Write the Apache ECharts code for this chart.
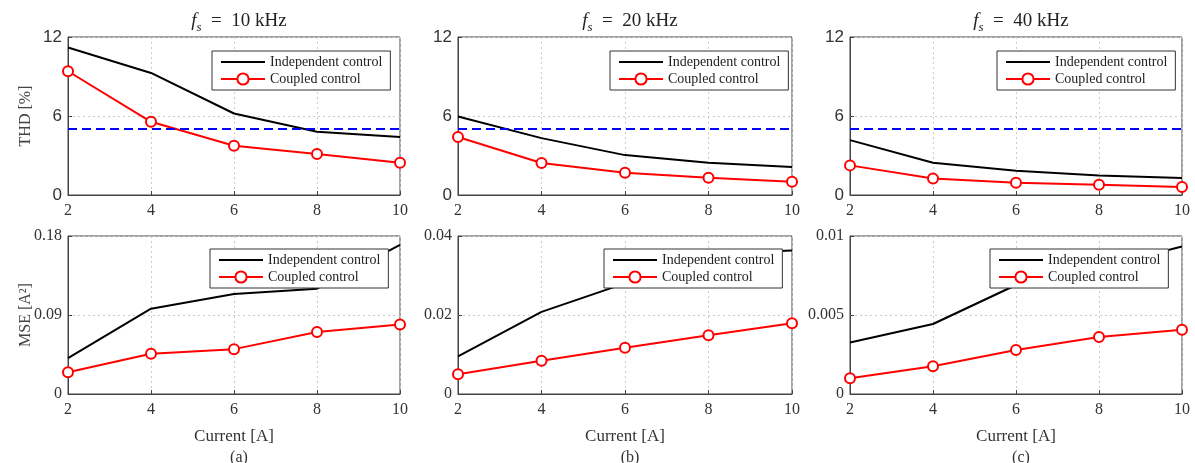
<!DOCTYPE html>
<html>
<head>
<meta charset="utf-8">
<script src="https://cdn.jsdelivr.net/npm/echarts@6/dist/echarts.min.js"></script>
<style>
  html, body { margin: 0; padding: 0; background: #fff; }
  #main { width: 1195px; height: 463px; }
</style>
</head>
<body>
<div id="main"></div>
<script>
// 电流 (A)
var current = [2, 4, 6, 8, 10];

// THD [%]
var thdIndep10 = [11.2, 9.27, 6.19, 4.8, 4.4];
var thdCoupled10 = [9.4, 5.56, 3.74, 3.11, 2.45];
var thdIndep20 = [5.96, 4.32, 3.03, 2.45, 2.12];
var thdCoupled20 = [4.4, 2.43, 1.69, 1.31, 1.01];
var thdIndep40 = [4.17, 2.45, 1.84, 1.49, 1.29];
var thdCoupled40 = [2.25, 1.26, 0.93, 0.78, 0.61];
var thdLimit = 5;

// MSE [A^2]
var mseIndep10 = [0.0408, 0.0972, 0.114, 0.12, 0.17];
var mseCoupled10 = [0.0248, 0.0458, 0.0511, 0.0706, 0.0793];
var mseIndep20 = [0.0095, 0.0208, 0.028, 0.0355, 0.0363];
var mseCoupled20 = [0.005, 0.0084, 0.0117, 0.0149, 0.0179];
var mseIndep40 = [0.00326, 0.00443, 0.0069, 0.008, 0.00934];
var mseCoupled40 = [0.00099, 0.00175, 0.00278, 0.00361, 0.00406];

var freqLabels = ['10', '20', '40'];
var panelLabels = ['(a)', '(b)', '(c)'];
var mseMax = [0.18, 0.04, 0.01];
var mseStep = [0.09, 0.02, 0.005];

var serif = '"Liberation Serif", "Times New Roman", serif';
var sans = '"Liberation Sans", Arial, sans-serif';

function pairs(ys) {
  return current.map(function (x, i) { return [x, ys[i]]; });
}

var colLeft = [68, 458, 850];
var colWidth = [332, 334, 332];
var rowTop = [37, 236];
var rowHeight = 158;

var grids = [], xAxes = [], yAxes = [], series = [], legends = [], titles = [];

var indepData = [thdIndep10, thdIndep20, thdIndep40, mseIndep10, mseIndep20, mseIndep40];
var coupledData = [thdCoupled10, thdCoupled20, thdCoupled40, mseCoupled10, mseCoupled20, mseCoupled40];

for (var r = 0; r < 2; r++) {
  for (var c = 0; c < 3; c++) {
    var k = r * 3 + c;
    grids.push({
      left: colLeft[c], top: rowTop[r], width: colWidth[c], height: rowHeight,
      show: true, borderColor: '#444', borderWidth: 1, backgroundColor: 'transparent'
    });
    xAxes.push({
      type: 'value', gridIndex: k, min: 2, max: 10, interval: 2,
      name: r === 1 ? 'Current [A]' : '',
      nameLocation: 'middle', nameGap: 34,
      nameTextStyle: { fontFamily: serif, fontSize: 17, color: '#333' },
      axisLine: { show: true, lineStyle: { color: '#444' } },
      axisTick: { show: true, inside: true, length: 4, lineStyle: { color: '#444' } },
      axisLabel: { fontFamily: serif, fontSize: 16, color: '#333', margin: 8 },
      splitLine: { show: true, lineStyle: { color: '#ccc', type: [2, 3] } }
    });
    yAxes.push({
      type: 'value', gridIndex: k, min: 0,
      max: r === 0 ? 12 : mseMax[c],
      interval: r === 0 ? 6 : mseStep[c],
      name: c === 0 ? (r === 0 ? 'THD [%]' : 'MSE [A²]') : '',
      nameLocation: 'middle', nameGap: 34, nameMoveOverlap: false,
      nameTextStyle: { fontFamily: serif, fontSize: 16, color: '#444' },
      axisLine: { show: true, lineStyle: { color: '#444' } },
      axisTick: { show: true, inside: true, length: 4, lineStyle: { color: '#444' } },
      axisLabel: {
        fontFamily: r === 0 ? sans : serif,
        fontSize: r === 0 ? 17 : 16, color: '#333', margin: 6
      },
      splitLine: { show: true, lineStyle: { color: '#ccc', type: [2, 3] } }
    });

    var indep = {
      name: 'Independent control', type: 'line', xAxisIndex: k, yAxisIndex: k,
      data: pairs(indepData[k]), symbol: 'none', clip: false,
      lineStyle: { color: '#000', width: 2 }, itemStyle: { color: '#000' }
    };
    if (r === 0) {
      indep.markLine = {
        silent: true, symbol: 'none', label: { show: false },
        lineStyle: { color: '#0000ff', width: 2, type: [9, 5] },
        data: [{ yAxis: thdLimit }]
      };
    }
    series.push(indep);
    series.push({
      name: 'Coupled control', type: 'line', xAxisIndex: k, yAxisIndex: k,
      data: pairs(coupledData[k]), symbol: 'emptyCircle', symbolSize: 10, clip: false,
      lineStyle: { color: '#ff0000', width: 2 },
      itemStyle: { color: '#ff0000', borderWidth: 2, borderColor: '#ff0000' }
    });

    // 图例位置
    var lgLeft = [[212, 610, 997], [210, 604, 990]];
    var lgTop = [51, 249];
    legends.push({
      data: [
        { name: 'Independent control', icon: 'path://M0,0 L44,0 L44,2 L0,2 Z' },
        'Coupled control'
      ],
      orient: 'vertical', left: lgLeft[r][c], top: lgTop[r],
      backgroundColor: '#fff', borderColor: '#333', borderWidth: 1,
      padding: [4, 8, 4, 8], itemGap: 3, itemWidth: 44, itemHeight: 14,
      symbolKeepAspect: true,
      textStyle: { fontFamily: serif, fontSize: 14, color: '#222' },
      selectedMode: false, z: 10
    });
  }
}

// 标题
for (var i = 0; i < 3; i++) {
  titles.push({
    text: '{f|f}{s|s}{n|  =  ' + freqLabels[i] + ' kHz}',
    left: colLeft[i] + colWidth[i] / 2, top: 3, textAlign: 'center',
    textStyle: {
      fontWeight: 'normal',
      rich: {
        f: { fontFamily: serif, fontSize: 19, fontStyle: 'italic', fontWeight: 'normal', color: '#222', lineHeight: 26 },
        s: { fontFamily: serif, fontSize: 13, fontStyle: 'italic', fontWeight: 'normal', color: '#222', lineHeight: 14, verticalAlign: 'bottom' },
        n: { fontFamily: serif, fontSize: 19, fontWeight: 'normal', color: '#222', lineHeight: 26 }
      }
    }
  });
  titles.push({
    text: panelLabels[i],
    left: colLeft[i] + colWidth[i] / 2, top: 445, textAlign: 'center',
    textStyle: { fontFamily: serif, fontSize: 16, fontWeight: 'normal', color: '#333' }
  });
}

var myChart = echarts.init(document.getElementById('main'), null, { renderer: 'canvas' });
myChart.setOption({
  animation: false,
  backgroundColor: '#fff',
  title: titles,
  legend: legends,
  grid: grids,
  xAxis: xAxes,
  yAxis: yAxes,
  series: series
});
</script>
</body>
</html>
